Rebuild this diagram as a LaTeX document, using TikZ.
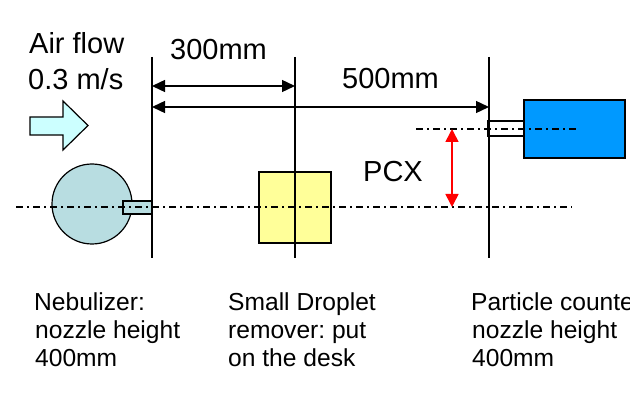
\documentclass[tikz,border=0pt]{standalone}
\usepackage{fontspec}
\setmainfont{Liberation Sans}
\usetikzlibrary{arrows.meta}
\definecolor{flowcyan}{RGB}{204,255,255}
\definecolor{nebblue}{RGB}{184,221,225}
\definecolor{dropyellow}{RGB}{255,255,153}
\definecolor{pcblue}{RGB}{0,153,255}
\frenchspacing
\begin{document}
\begin{tikzpicture}[x=1pt,y=-1pt,
  lbl/.style={inner sep=0pt, anchor=base west, font=\fontsize{29}{34}\selectfont},
  sub/.style={inner sep=0pt, anchor=base west, font=\fontsize{24.6}{28}\selectfont\frenchspacing},
  guide/.style={line width=1.4pt},
  dimarrow/.style={line width=1.4pt, {Triangle[length=13pt,width=12pt]}-{Triangle[length=13pt,width=12pt]}},
  pcxarrow/.style={line width=1.6pt, red, {Triangle[length=13pt,width=13pt]}-{Triangle[length=13pt,width=13pt]}},
  axisline/.style={line width=1.1pt, dash pattern=on 7pt off 4pt on 2pt off 4pt},
  part/.style={draw, line width=1.2pt, inner sep=0pt},
]
\useasboundingbox[fill=white] (0,0) rectangle (630,401);

% coordinates
\coordinate (v1t) at (152,57); \coordinate (v1b) at (152,258);
\coordinate (v2t) at (295,57); \coordinate (v2b) at (295,258);
\coordinate (v3t) at (489,57); \coordinate (v3b) at (489,258);
\coordinate (d1a) at (152,86);  \coordinate (d1b) at (295,86);
\coordinate (d2a) at (152,107); \coordinate (d2b) at (489,107);
\coordinate (axL) at (16,207);  \coordinate (axR) at (572,207);
\coordinate (ax2L) at (416,129); \coordinate (ax2R) at (577,129);
\coordinate (pcxT) at (452,129); \coordinate (pcxB) at (452,207);

% air flow arrow
\draw[line width=1.2pt, fill=flowcyan] (30,117) -- (63,117) -- (63,101) -- (88,125.5) -- (63,150) -- (63,135) -- (30,135) -- cycle;

% parts
\node[part, circle, fill=nebblue, minimum size=80pt] (neb) at (92,204) {};
\node[part, rectangle, fill=nebblue, minimum width=29pt, minimum height=13pt] (nebnoz) at (137.5,207.5) {};
\node[part, rectangle, fill=dropyellow, minimum width=72pt, minimum height=71pt] (drop) at (295,207.5) {};
\node[part, rectangle, fill=white, minimum width=36pt, minimum height=15pt] (pcnoz) at (506,128.5) {};
\node[part, rectangle, fill=pcblue, minimum width=101pt, minimum height=58pt] (pc) at (574.5,129) {};

% axis lines
\draw[axisline] (axL) -- (axR);
\draw[axisline] (ax2L) -- (ax2R);

% guide lines
\draw[guide] (v1t) -- (v1b);
\draw[guide] (v2t) -- (v2b);
\draw[guide] (v3t) -- (v3b);

% dimensions
\draw[dimarrow] (d1a) -- (d1b);
\draw[dimarrow] (d2a) -- (d2b);
\draw[pcxarrow] (pcxT) -- (pcxB);

% labels
\node[lbl] (air1) at (29,54) {Air flow};
\node[lbl] (air2) at (28,90) {0.3 m/s};
\node[lbl] (l300) at (170,60) {300mm};
\node[lbl] (l500) at (342,89) {500mm};
\node[lbl] (lpcx) at (363,182) {PCX};

\node[sub] (n1) at (34,310) {Nebulizer:};
\node[sub] (n2) at (35,338) {nozzle height};
\node[sub] (n3) at (35,366) {400mm};
\node[sub] (s1) at (228,310) {Small Droplet};
\node[sub] (s2) at (228,338) {remover: put};
\node[sub] (s3) at (228,366) {on the desk};
\begin{scope}
\clip (0,0) rectangle (630,401);
\node[sub] (p1) at (471,310) {Particle counter:};
\node[sub] (p2) at (472,338) {nozzle height};
\node[sub] (p3) at (472,366) {400mm};
\end{scope}
\end{tikzpicture}
\end{document}
